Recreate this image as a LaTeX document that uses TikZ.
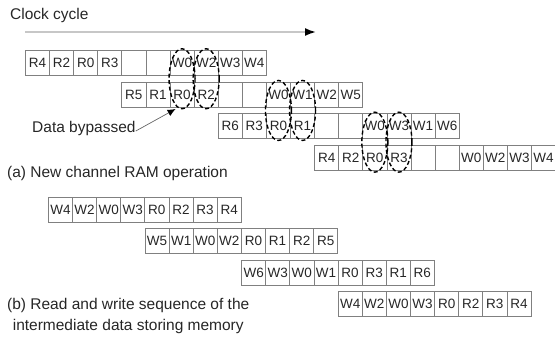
\documentclass[tikz,border=0pt]{standalone}
\usepackage{fontspec}
\setmainfont{Liberation Sans}
\usetikzlibrary{arrows.meta, positioning, calc}

\begin{document}
\begin{tikzpicture}[
    x=1pt, y=-1pt,
    lbl/.style={font=\fontsize{15.5}{21}\selectfont, text=black!85, inner sep=0pt},
    cell/.style={draw=black!50, line width=0.8pt, minimum width=24.1pt, minimum height=25pt,
                 inner sep=0pt, anchor=north west, font=\fontsize{13.5}{15}\selectfont,
                 text=black!85},
    bypass/.style={dash pattern=on 4pt off 2.5pt, line width=1.4pt},
    clk/.style={draw=black!22, line width=1.8pt, -{Latex[length=11pt, width=8pt, black]}},
    arr/.style={draw=black!60, line width=0.7pt, -{Latex[length=8pt, width=7pt, black]}},
]
    \useasboundingbox (0,0) rectangle (555,338);

    %==================== CLOCK CYCLE ====================
    \node[lbl, anchor=west] (clock) at (10,15) {Clock cycle};
    \coordinate (clk-s) at (25,32);
    \coordinate (clk-e) at (316,32);
    \draw[clk] (clk-s) -- (clk-e);

    %==================== (a) NEW CHANNEL RAM ====================
    \foreach \seq [count=\r from 0] in {
        {R4,R2,R0,R3,{},{},W0,W2,W3,W4},
        {R5,R1,R0,R2,{},{},W0,W1,W2,W5},
        {R6,R3,R0,R1,{},{},W0,W3,W1,W6},
        {R4,R2,R0,R3,{},{},W0,W2,W3,W4}}
      \foreach \t [count=\c from 0] in \seq
        \node[cell] (a\r-\c) at (25+96.4*\r+24.1*\c, 50+31.7*\r) {\t};

    % bypassed pairs: write of one row meets read of the next
    \foreach \r in {0,1,2} {
        \pgfmathtruncatemacro{\rr}{\r+1}
        \draw[bypass] ($(a\r-6.north)!0.5!(a\rr-2.south)$) ellipse (13pt and 30pt);
        \draw[bypass] ($(a\r-7.north)!0.5!(a\rr-3.south)$) ellipse (13pt and 30pt);
    }

    \node[lbl, anchor=west] (bypassed) at (32,128) {Data bypassed};
    \draw[arr] ([yshift=-3pt]bypassed.east) -- ([xshift=6pt, yshift=-1.5pt]a1-2.south west);

    \node[lbl, anchor=west] (capa) at (7,173) {(a) New channel RAM operation};

    %==================== (b) INTERMEDIATE MEMORY ====================
    \foreach \seq [count=\r from 0] in {
        {W4,W2,W0,W3,R0,R2,R3,R4},
        {W5,W1,W0,W2,R0,R1,R2,R5},
        {W6,W3,W0,W1,R0,R3,R1,R6},
        {W4,W2,W0,W3,R0,R2,R3,R4}}
      \foreach \t [count=\c from 0] in \seq
        \node[cell] (b\r-\c) at (48+96.6*\r+24.1*\c, 197+31.3*\r) {\t};

    \node[lbl, anchor=west, align=center] (capb) at (7,316)
        {(b) Read and write sequence of the\\intermediate data storing memory};

\end{tikzpicture}
\end{document}
